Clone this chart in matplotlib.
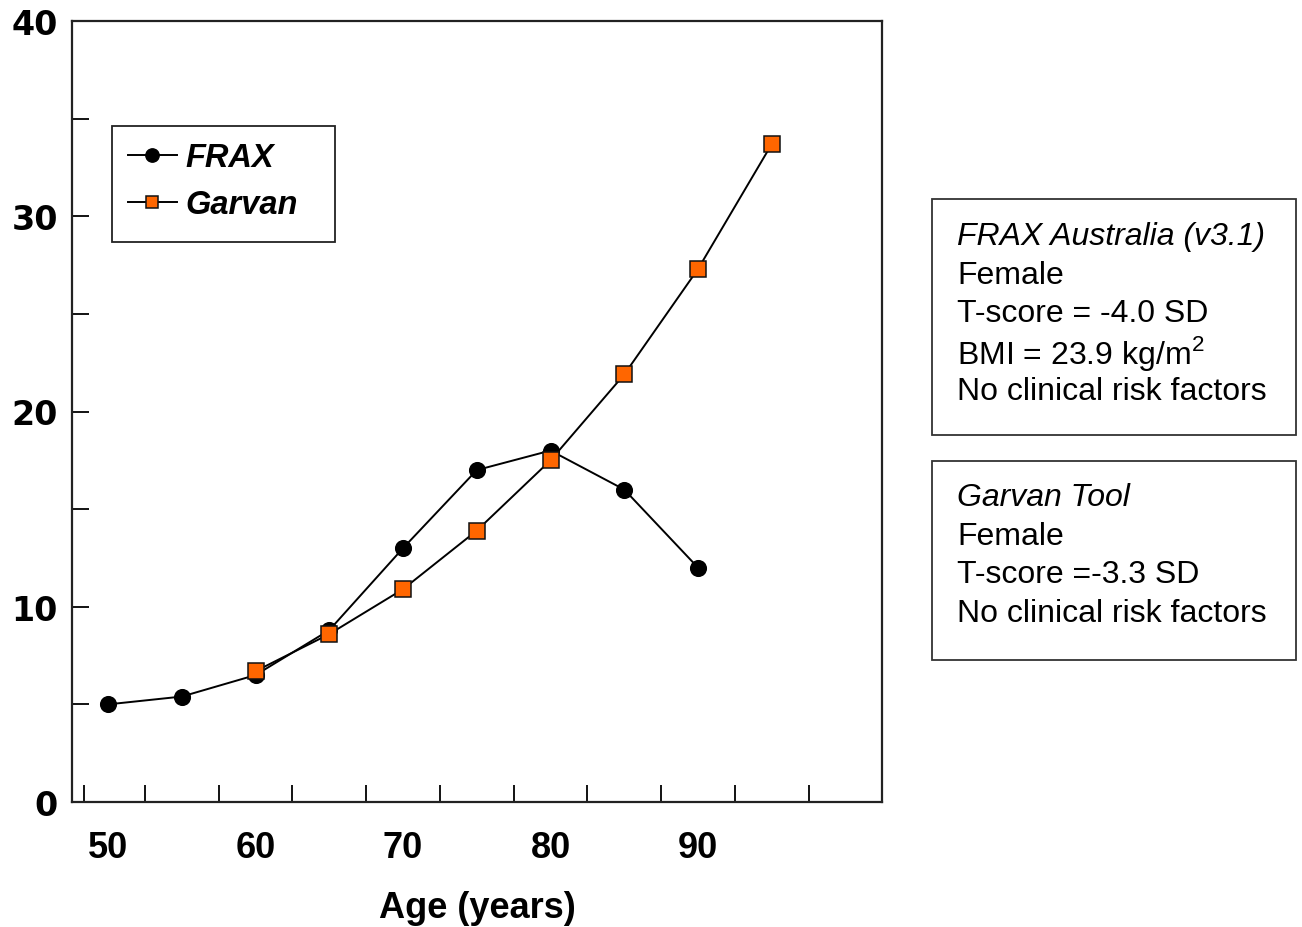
import matplotlib.pyplot as plt
import matplotlib.patches as mpatches

## Data
frax_age = [50, 55, 60, 65, 70, 75, 80, 85, 90]
frax_risk = [5.0, 5.4, 6.5, 8.8, 13.0, 17.0, 18.0, 16.0, 12.0]
garvan_age = [60, 65, 70, 75, 80, 85, 90, 95]
garvan_risk = [6.7, 8.6, 10.9, 13.9, 17.5, 21.9, 27.3, 33.7]

xtick_labels = [50, 60, 70, 80, 90]
ytick_labels = [0, 10, 20, 30, 40]

frax_box = ['FRAX Australia (v3.1)', 'Female', 'T-score = -4.0 SD',
            'BMI = 23.9 kg/m$^2$', 'No clinical risk factors']
garvan_box = ['Garvan Tool', 'Female', 'T-score =-3.3 SD',
              'No clinical risk factors']

plt.rcParams['font.family'] = ['Liberation Sans', 'DejaVu Sans']
plt.rcParams['mathtext.fontset'] = 'custom'
plt.rcParams['mathtext.rm'] = 'Liberation Sans'

W, H = 1302., 928.
fig = plt.figure(figsize=(13.02, 9.28), dpi=100)
ax = fig.add_axes([72/W, 1-803/H, 810/W, 781/H])

ax.plot(frax_age, frax_risk, color='black', lw=1.4, marker='o', ms=11.3,
        mfc='black', mec='black', label='FRAX', zorder=3)
ax.plot(garvan_age, garvan_risk, color='black', lw=1.4, marker='s', ms=11.0,
        mfc='#FF6600', mec='#111111', mew=1.1, label='Garvan', zorder=4)

ax.set_xlim(47.56, 102.47)
ax.set_ylim(0, 40)

## tick marks sit between the ages, labels only every 10 years
ax.set_xticks([48.4, 52.5, 57.5, 62.5, 67.5, 72.5, 77.5, 82.5, 87.5, 92.5, 97.5])
ax.set_xticklabels([])
ax.set_xticks(xtick_labels, minor=True)
ax.set_xticklabels([str(v) for v in xtick_labels], minor=True,
                   fontsize=26, fontweight='bold')
ax.tick_params(axis='x', which='major', direction='in', length=12, width=1.3)
ax.tick_params(axis='x', which='minor', length=0, pad=20)

ax.set_yticks(range(0, 41, 5))
ax.set_yticklabels([str(v) if v in ytick_labels else '' for v in range(0, 41, 5)],
                   fontsize=24, fontweight='bold', family='DejaVu Sans')
ax.tick_params(axis='y', direction='in', length=12, width=1.3, pad=10)

for s in ax.spines.values():
    s.set_linewidth(1.6)
    s.set_color('#222222')

ax.set_xlabel('Age (years)', fontsize=26, fontweight='bold', labelpad=18)

## legend without its own frame, box drawn separately (wider on the right)
leg = ax.legend(loc='upper left', bbox_to_anchor=(0.049, 0.866), borderaxespad=0,
                frameon=False, markerscale=0.85,
                prop={'size': 23.5, 'weight': 'bold', 'style': 'italic'},
                handlelength=1.5, handletextpad=0.25, borderpad=0.5,
                labelspacing=0.5)
fig.patches.append(mpatches.Rectangle((112/W, 1-243/H), (335-112)/W, (243-127)/H,
                                      transform=fig.transFigure, fill=False,
                                      edgecolor='#222222', lw=1.3))

## info boxes on the right
def info_box(top, bottom, lines, y0):
    rect = mpatches.Rectangle((932/W, 1-bottom/H), (1296-932)/W, (bottom-top)/H,
                              transform=fig.transFigure, fill=False,
                              edgecolor='#333333', lw=1.3)
    fig.patches.append(rect)
    for i, t in enumerate(lines):
        fig.text(957/W, 1-(y0 + 38.7*i)/H, t, fontsize=23, va='center', ha='left',
                 style='italic' if i == 0 else 'normal')

info_box(200, 436, frax_box, 237)
info_box(462, 661, garvan_box, 498)

fig.savefig('out.png', dpi=100)
